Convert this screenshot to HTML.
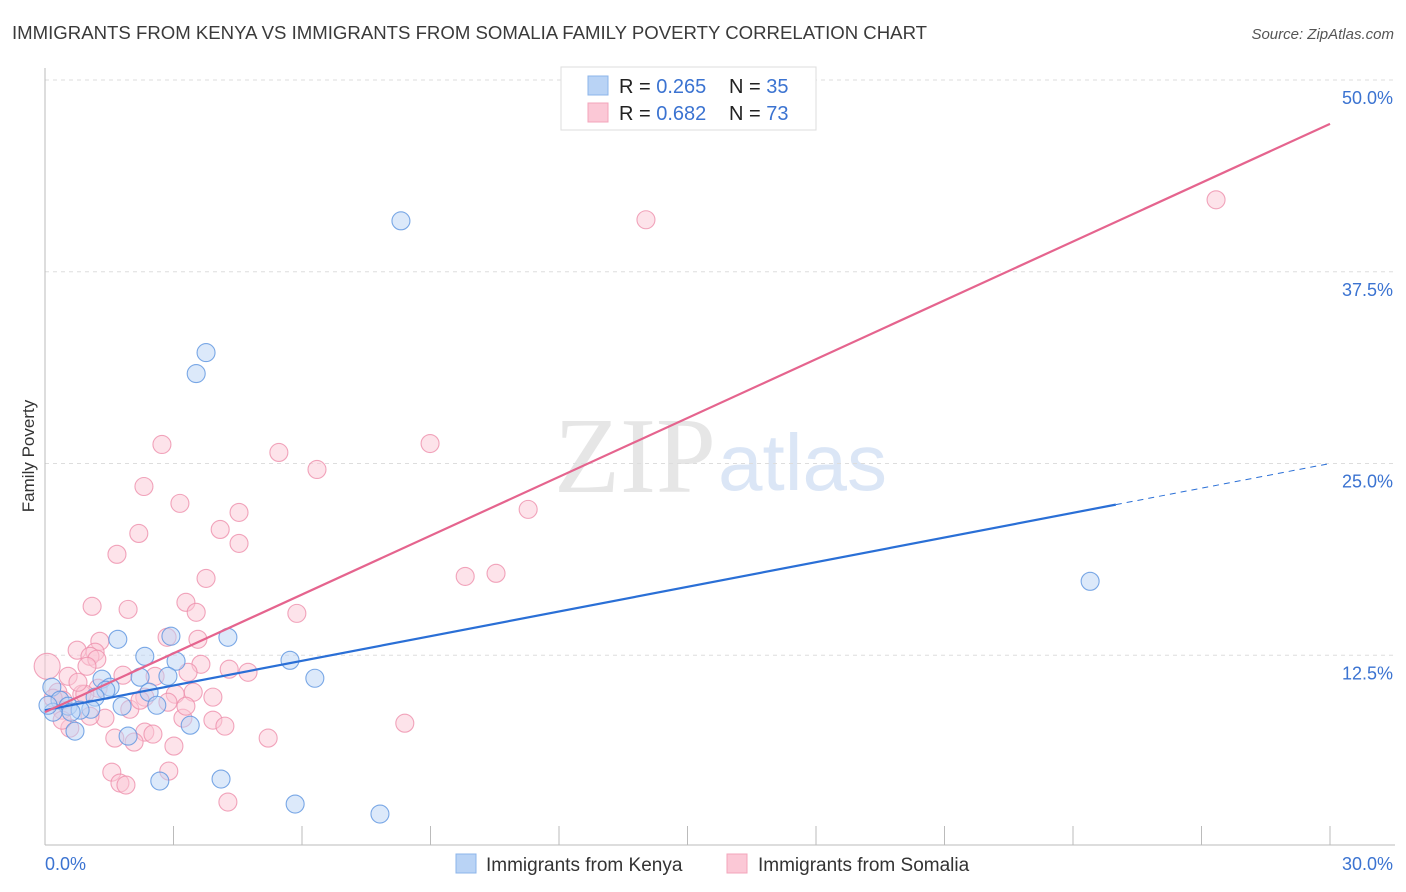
<!DOCTYPE html>
<html><head><meta charset="utf-8"><style>
body{margin:0;background:#fff;font-family:"Liberation Sans",sans-serif}
svg{display:block}
</style></head><body>
<svg id="chart" width="1406" height="892">
<text x="12" y="39" font-size="18.6" fill="#3a3a3a">IMMIGRANTS FROM KENYA VS IMMIGRANTS FROM SOMALIA FAMILY POVERTY CORRELATION CHART</text>
<text x="1394" y="39" font-size="15" fill="#555" font-style="italic" text-anchor="end">Source: ZipAtlas.com</text>
<text x="716" y="492" font-size="108" fill="#e6e6e6" text-anchor="end" font-family="Liberation Serif,serif">ZIP</text>
<text x="718" y="490" font-size="80" fill="#dbe6f6">atlas</text>
<text transform="translate(34,456) rotate(-90)" font-size="17" fill="#333" text-anchor="middle">Family Poverty</text>
<g id="grid"></g><g id="axes"></g><g id="pts"></g><g id="lines"></g>
<g>
<rect x="561" y="67" width="255" height="63" fill="#fff" stroke="#ddd"/>
<rect x="588" y="76" width="20" height="19" fill="#b9d3f5" stroke="#8cb4ea"/>
<rect x="588" y="103" width="20" height="19" fill="#fbc8d6" stroke="#f3a5bb"/>
<text x="619" y="93" font-size="20" fill="#222">R = <tspan fill="#3b73d1">0.265</tspan></text>
<text x="729" y="93" font-size="20" fill="#222">N = <tspan fill="#3b73d1">35</tspan></text>
<text x="619" y="120" font-size="20" fill="#222">R = <tspan fill="#3b73d1">0.682</tspan></text>
<text x="729" y="120" font-size="20" fill="#222">N = <tspan fill="#3b73d1">73</tspan></text>
</g>
<g>
<rect x="456" y="854" width="20" height="19" fill="#b9d3f5" stroke="#8cb4ea"/>
<text x="486" y="871" font-size="19" fill="#333">Immigrants from Kenya</text>
<rect x="727" y="854" width="20" height="19" fill="#fbc8d6" stroke="#f3a5bb"/>
<text x="758" y="871" font-size="19" fill="#333">Immigrants from Somalia</text>
</g>
</svg>
<script>
const yTicks=[12.5,25,37.5,50];
const yTickLabels=["12.5%","25.0%","37.5%","50.0%"];
const xTickLabels=["0.0%","30.0%"];
const kenyaX=[8.31,3.76,3.53,24.40,1.70,2.94,4.27,2.33,3.06,5.72,6.30,2.22,2.87,1.33,1.52,1.42,2.43,1.17,0.16,0.35,0.54,1.80,2.61,1.07,0.82,0.19,0.61,0.70,3.39,1.94,4.11,2.68,5.84,7.82,0.07];
const kenyaY=[40.82,32.23,30.86,17.32,13.54,13.74,13.67,12.43,12.11,12.17,11.00,11.07,11.13,10.94,10.42,10.22,10.09,9.77,10.42,9.57,9.18,9.18,9.24,8.98,8.92,8.79,8.79,7.55,7.94,7.23,4.43,4.30,2.80,2.15,9.24];
const somaliaX=[27.34,14.03,2.73,8.99,5.46,6.35,2.31,3.15,11.28,4.53,4.09,2.19,4.53,1.68,3.76,9.81,10.53,1.10,1.94,3.29,3.53,5.88,2.85,1.28,3.57,0.75,1.17,1.05,1.21,3.64,0.98,4.30,3.34,4.74,0.05,0.54,1.82,2.57,1.24,3.46,3.04,2.33,0.86,3.92,0.30,0.42,2.87,1.98,1.40,8.40,3.22,3.92,4.20,2.33,2.52,0.58,0.40,5.21,1.63,2.08,3.01,1.56,2.89,1.75,1.89,4.27,0.19,0.93,0.77,2.22,3.29,0.40,1.05];
const somaliaY=[42.19,40.89,26.24,26.30,25.72,24.61,23.50,22.40,22.01,21.81,20.70,20.44,19.79,19.08,17.51,17.64,17.84,15.69,15.49,15.95,15.30,15.23,13.67,13.41,13.54,12.83,12.70,12.43,12.24,11.91,11.78,11.59,11.39,11.39,11.78,11.13,11.20,11.13,10.35,10.09,9.96,9.77,9.96,9.77,10.09,9.57,9.44,8.98,8.40,8.07,8.40,8.27,7.88,7.49,7.36,7.75,8.92,7.10,7.10,6.84,6.58,4.88,4.95,4.17,4.04,2.93,9.70,9.96,10.74,9.57,9.18,8.27,8.53];
const kenyaTrend=[8.92,25.0];
const somaliaTrend=[8.79,47.14];
const kenyaSolidEnd=25.0;

const NS="http://www.w3.org/2000/svg";
const X0=45,X1=1330,Y0=847,Y50=80;
const sx=v=>X0+(X1-X0)*v/30;
const sy=v=>Y0-(Y0-Y50)*v/50;
function mk(tag,attrs,parent){const e=document.createElementNS(NS,tag);for(const k in attrs)e.setAttribute(k,attrs[k]);parent.appendChild(e);return e;}
const grid=document.getElementById('grid'),axes=document.getElementById('axes'),pts=document.getElementById('pts'),lines=document.getElementById('lines');
yTicks.forEach((t,i)=>{
 const l=mk('line',{x1:X0,x2:1395,y1:sy(t),y2:sy(t),stroke:'#ddd','stroke-dasharray':'4,4'},grid);
 
 
 const tx=mk('text',{x:1393,y:sy(t)+24,'font-size':18,fill:'#3b73d1','text-anchor':'end'},grid);
 tx.textContent=yTickLabels[i];
 
 
});
const ya=mk('line',{x1:X0,x2:X0,y1:68,y2:845,stroke:'#bbb'},axes);


const xa=mk('line',{x1:X0,x2:1395,y1:845,y2:845,stroke:'#bbb'},axes);


for(let k=1;k<=10;k++){
 const t=mk('line',{x1:sx(k*3),x2:sx(k*3),y1:826,y2:845,stroke:'#bbb'},axes);
 
 
}
const xl0=mk('text',{x:45,y:870,'font-size':18,fill:'#3b73d1'},axes);
xl0.textContent=xTickLabels[0];


const xl1=mk('text',{x:1393,y:870,'font-size':18,fill:'#3b73d1','text-anchor':'end'},axes);
xl1.textContent=xTickLabels[1];


function dots(xs,ys,fill,stroke,name){
 xs.forEach((x,i)=>{
  const r=(x<0.1&&name==='somalia')?13:9;
  const c=mk('circle',{cx:sx(x),cy:sy(ys[i]),r:r,fill:fill,'fill-opacity':0.5,stroke:stroke,'stroke-width':1.1,'stroke-opacity':0.8},pts);
  
  
 });
}
dots(somaliaX,somaliaY,'#fbc8d6','#ee8fab','somalia');
dots(kenyaX,kenyaY,'#b9d3f5','#5b93e0','kenya');
const kf=x=>kenyaTrend[0]+(kenyaTrend[1]-kenyaTrend[0])*x/30;
const sf=x=>somaliaTrend[0]+(somaliaTrend[1]-somaliaTrend[0])*x/30;
const kl=mk('line',{x1:sx(0),y1:sy(kf(0)),x2:sx(kenyaSolidEnd),y2:sy(kf(kenyaSolidEnd)),stroke:'#2a6fd6','stroke-width':2.2},lines);


const kd=mk('line',{x1:sx(kenyaSolidEnd),y1:sy(kf(kenyaSolidEnd)),x2:sx(30),y2:sy(kf(30)),stroke:'#2a6fd6','stroke-width':1,'stroke-dasharray':'6,5'},lines);


const sl=mk('line',{x1:sx(0),y1:sy(sf(0)),x2:sx(30),y2:sy(sf(30)),stroke:'#e5648e','stroke-width':2.2},lines);


</script>
</body></html>
